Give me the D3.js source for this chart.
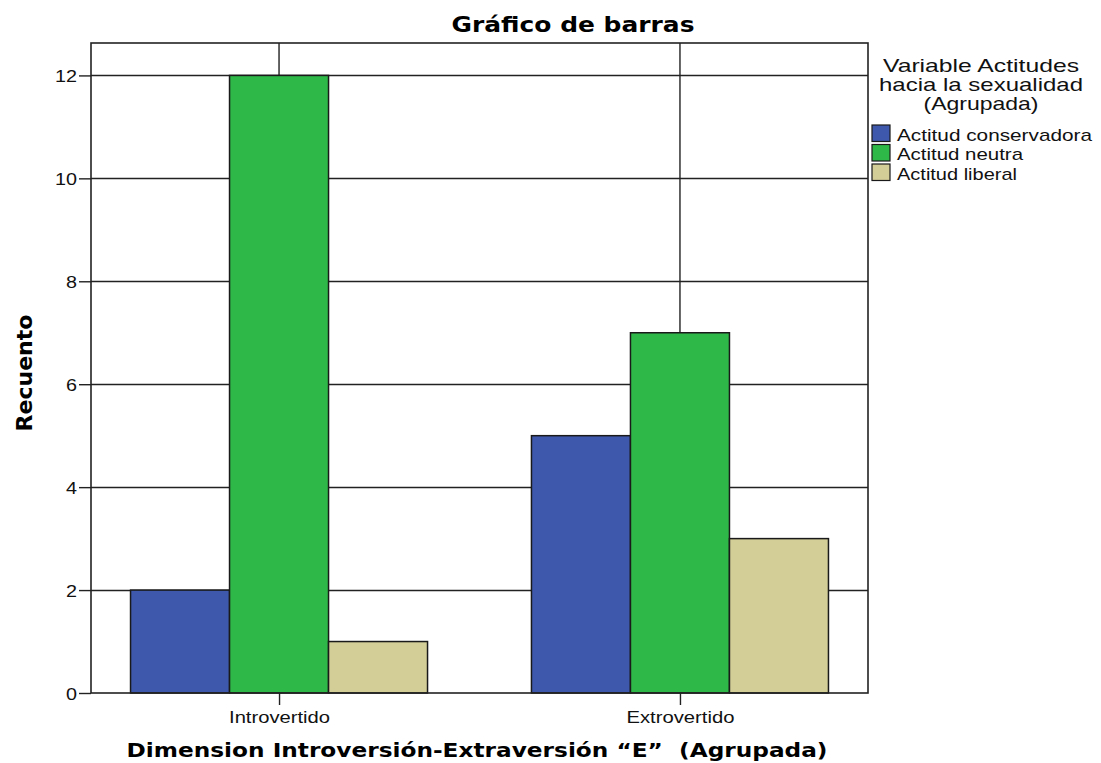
<!DOCTYPE html>
<html>
<head>
<meta charset="utf-8">
<script src="https://cdn.jsdelivr.net/npm/d3@7"></script>
<style>
  body { margin: 0; background: #fff; }
  svg { display: block; }
</style>
</head>
<body>
<div id="chart"></div>
<script>
const categories = ['Introvertido', 'Extrovertido'];
const series = ['Actitud conservadora', 'Actitud neutra', 'Actitud liberal'];
const conservadora = [2, 5];
const neutra = [12, 7];
const liberal = [1, 3];
const yTicks = [0, 2, 4, 6, 8, 10, 12];
const colors = ['#3e58ac', '#2eb848', '#d3cd97'];

const values = [conservadora, neutra, liberal];
const data = categories.flatMap((c, i) =>
  series.map((s, j) => ({ cat: c, series: s, value: values[j][i] })));

const width = 1101, height = 763;
const m = { left: 91, right: 868, top: 43, bottom: 693 };
const sans = 'Liberation Sans, Arial, sans-serif';
const bold = 'DejaVu Sans, Verdana, sans-serif';

// SPSS renders its text wider than the browser does: stretch to measured widths
function stretch(sel, len) {
  sel.attr('textLength', len).attr('lengthAdjust', 'spacingAndGlyphs');
}

const svg = d3.select('#chart').append('svg')
  .attr('width', width).attr('height', height);

const x = d3.scalePoint().domain(categories).range([m.left, m.right]).padding(0.469);
const xs = d3.scaleBand().domain(series).range([-148.5, 148.5]);
const y = d3.scaleLinear().domain([0, 12.63]).range([m.bottom, m.top]);

// horizontal gridlines
svg.append('g')
  .selectAll('line')
  .data(yTicks.filter((d) => d > 0))
  .join('line')
  .attr('x1', m.left).attr('x2', m.right)
  .attr('y1', (d) => Math.round(y(d)) + 0.5).attr('y2', (d) => Math.round(y(d)) + 0.5)
  .attr('stroke', '#222').attr('stroke-width', 1.4);

// vertical gridlines at category centers
svg.append('g')
  .selectAll('line')
  .data(categories)
  .join('line')
  .attr('x1', (d) => x(d)).attr('x2', (d) => x(d))
  .attr('y1', m.top).attr('y2', m.bottom)
  .attr('stroke', '#222').attr('stroke-width', 1.4);

// bars
svg.append('g')
  .selectAll('rect')
  .data(data)
  .join('rect')
  .attr('x', (d) => x(d.cat) + xs(d.series))
  .attr('width', xs.bandwidth())
  .attr('y', (d) => y(d.value))
  .attr('height', (d) => y(0) - y(d.value))
  .attr('fill', (d) => colors[series.indexOf(d.series)])
  .attr('stroke', '#1a1a1a').attr('stroke-width', 1.5);

// frame
svg.append('rect')
  .attr('x', m.left).attr('y', m.top)
  .attr('width', m.right - m.left).attr('height', m.bottom - m.top)
  .attr('fill', 'none').attr('stroke', '#222').attr('stroke-width', 1.6);

// y axis
const yAxis = svg.append('g')
  .attr('transform', `translate(${m.left},0)`)
  .call(d3.axisLeft(y).tickValues(yTicks).tickSize(12).tickPadding(2).tickFormat(d3.format('d')));
yAxis.select('.domain').remove();
yAxis.selectAll('.tick line').attr('stroke', '#222').attr('stroke-width', 1.4);
yAxis.selectAll('.tick text')
  .attr('font-family', sans).attr('font-size', 17).attr('fill', '#111')
  .attr('dy', '0.36em')
  .each(function (d) { stretch(d3.select(this), d >= 10 ? 22 : 11); });

// x axis
const xLabelWidth = { Introvertido: 101, Extrovertido: 108 };
const xAxis = svg.append('g')
  .attr('transform', `translate(0,${m.bottom})`)
  .call(d3.axisBottom(x).tickSize(12).tickPadding(6));
xAxis.select('.domain').remove();
xAxis.selectAll('.tick line').attr('stroke', '#222').attr('stroke-width', 1.4);
xAxis.selectAll('.tick text')
  .attr('font-family', sans).attr('font-size', 16).attr('fill', '#111')
  .attr('y', 30).attr('dy', 0)
  .each(function (d) { stretch(d3.select(this), xLabelWidth[d]); });

// titles
svg.append('text')
  .attr('x', 573).attr('y', 32)
  .attr('text-anchor', 'middle')
  .attr('font-family', bold).attr('font-weight', 'bold').attr('font-size', 22)
  .text('Gráfico de barras')
  .call(stretch, 243);

svg.append('text')
  .attr('x', 477).attr('y', 757)
  .attr('text-anchor', 'middle')
  .attr('font-family', bold).attr('font-weight', 'bold').attr('font-size', 20)
  .attr('xml:space', 'preserve')
  .text('Dimension Introversión-Extraversión \u201cE\u201d  (Agrupada)')
  .call(stretch, 701);

svg.append('text')
  .attr('transform', 'translate(32,373) rotate(-90)')
  .attr('text-anchor', 'middle')
  .attr('font-family', bold).attr('font-weight', 'bold').attr('font-size', 21)
  .text('Recuento')
  .call(stretch, 117);

// legend
const legendTitle = ['Variable Actitudes', 'hacia la sexualidad', '(Agrupada)'];
const legendTitleWidth = [196, 204, 115];
svg.append('g')
  .selectAll('text')
  .data(legendTitle)
  .join('text')
  .attr('x', 981).attr('y', (d, i) => 72 + i * 19)
  .attr('text-anchor', 'middle')
  .attr('font-family', sans).attr('font-size', 19).attr('fill', '#111')
  .text((d) => d)
  .each(function (d, i) { stretch(d3.select(this), legendTitleWidth[i]); });

const legendItemWidth = [195, 126, 120];
const legend = svg.append('g')
  .selectAll('g')
  .data(series)
  .join('g')
  .attr('transform', (d, i) => `translate(872,${125 + i * 19.5})`);
legend.append('rect')
  .attr('width', 18).attr('height', 16.5)
  .attr('fill', (d, i) => colors[i])
  .attr('stroke', '#1a1a1a').attr('stroke-width', 1.2);
legend.append('text')
  .attr('x', 25).attr('y', 15.5)
  .attr('font-family', sans).attr('font-size', 17).attr('fill', '#111')
  .text((d) => d)
  .each(function (d, i) { stretch(d3.select(this), legendItemWidth[i]); });
</script>
</body>
</html>
